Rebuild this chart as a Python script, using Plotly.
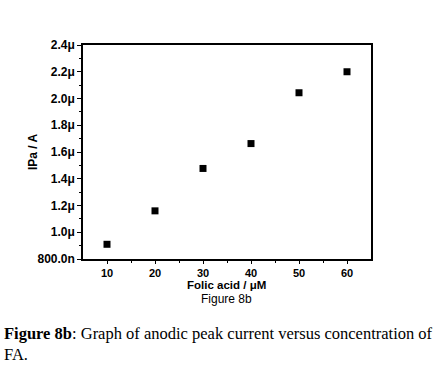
import plotly.graph_objects as go

conc_uM = [10, 20, 30, 40, 50, 60]
ipa_A = [0.91e-6, 1.16e-6, 1.477e-6, 1.663e-6, 2.043e-6, 2.2e-6]
y_tick_vals = [0.8e-6, 1.0e-6, 1.2e-6, 1.4e-6, 1.6e-6, 1.8e-6, 2.0e-6, 2.2e-6, 2.4e-6]
y_tick_text = ["800.0n", "1.0μ", "1.2μ", "1.4μ", "1.6μ", "1.8μ", "2.0μ", "2.2μ", "2.4μ"]
x_tick_vals = [10, 20, 30, 40, 50, 60]

y_tick_font = dict(family="Liberation Sans, Arial", size=12, color="black", weight="bold")
x_tick_font = dict(family="Liberation Sans, Arial", size=11, color="black", weight="bold")

W, H = 439, 370
L, T, R, B = 83, 45, 68, 111
PW, PH = W - L - R, H - T - B

def px_x(dx):
    return dx / PW

def px_y(dy):
    return dy / PH

fig = go.Figure()
fig.add_trace(go.Scatter(
    x=conc_uM, y=ipa_A, mode="markers",
    marker=dict(symbol="square", size=7, color="black", line=dict(width=0)),
    showlegend=False,
))

fig.update_layout(
    width=W, height=H,
    margin=dict(l=L, r=R, t=T, b=B),
    paper_bgcolor="white", plot_bgcolor="white",
    xaxis=dict(
        range=[5, 65], tickvals=x_tick_vals, ticktext=[str(v) for v in x_tick_vals],
        showgrid=False, zeroline=False, showline=True, linecolor="black", linewidth=1.5,
        mirror=True, ticks="outside", ticklen=3, tickwidth=1.2, tickcolor="black",
        tickfont=x_tick_font,
        minor=dict(tickvals=[15, 25, 35, 45, 55], ticks="outside", ticklen=2, tickwidth=1.2, tickcolor="black"),
    ),
    yaxis=dict(
        range=[0.8e-6, 2.4e-6], tickvals=y_tick_vals, ticktext=y_tick_text,
        showgrid=False, zeroline=False, showline=True, linecolor="black", linewidth=1.5,
        mirror=True, ticks="outside", ticklen=4, tickwidth=1.2, tickcolor="black",
        tickfont=y_tick_font,
        minor=dict(tickvals=[0.9e-6, 1.1e-6, 1.3e-6, 1.5e-6, 1.7e-6, 1.9e-6, 2.1e-6, 2.3e-6],
                   ticks="outside", ticklen=2, tickwidth=1.2, tickcolor="black"),
    ),
    annotations=[
        dict(text="IPa / A", xref="paper", yref="paper", x=px_x(33 - L), y=0.5, textangle=-90,
             showarrow=False, xanchor="center", yanchor="middle",
             font=dict(family="Liberation Sans, Arial", size=12, color="black", weight="bold")),
        dict(text="Folic acid / μM", xref="paper", yref="paper", x=px_x(226 - L), y=px_y(258 - 284),
             showarrow=False, xanchor="center", yanchor="middle",
             font=dict(family="Liberation Sans, Arial", size=11.5, color="black", weight="bold")),
        dict(text="Figure 8b", xref="paper", yref="paper", x=px_x(226 - L), y=px_y(258 - 298),
             showarrow=False, xanchor="center", yanchor="middle",
             font=dict(family="Liberation Sans, Arial", size=12, color="black")),
        dict(text="<b>Figure 8b</b>: Graph of anodic peak current versus concentration of<br>FA.",
             xref="paper", yref="paper", x=px_x(2 - L), y=px_y(258 - 321), align="left",
             showarrow=False, xanchor="left", yanchor="top",
             font=dict(family="Liberation Serif, Times New Roman", size=16.5, color="black")),
    ],
)

fig.write_html("out.html", post_script="document.body.style.margin='0';",
               config={"displayModeBar": False})
